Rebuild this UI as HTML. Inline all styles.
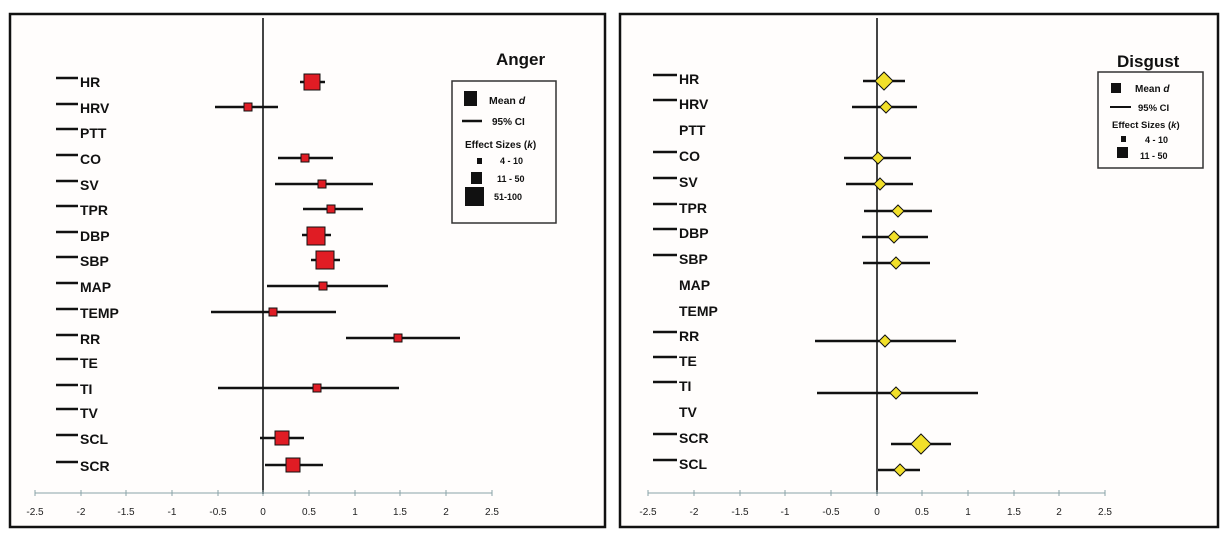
<!DOCTYPE html>
<html><head><meta charset="utf-8"><style>
html,body{margin:0;padding:0;background:#fff;}
svg{display:block;font-family:"Liberation Sans",sans-serif;}
.lab{font-size:14px;font-weight:bold;fill:#111;}
.tk{font-size:10px;fill:#222;text-anchor:middle;}
.lg{font-size:10.5px;font-weight:bold;fill:#111;}
</style></head><body>
<svg width="1228" height="537" viewBox="0 0 1228 537">
<rect x="0" y="0" width="1228" height="537" fill="#fff"/>
<!-- LEFT PANEL -->
<rect x="10" y="14" width="595" height="513" fill="#fffdfc" stroke="#111" stroke-width="2.5"/>
<line x1="263" y1="18" x2="263" y2="494" stroke="#444" stroke-width="2"/>
<line x1="35" y1="493" x2="492" y2="493" stroke="#8aa3a8" stroke-width="1"/>
<g stroke="#8aa3a8" stroke-width="1">
<line x1="35" y1="490" x2="35" y2="496"/><line x1="81" y1="490" x2="81" y2="496"/><line x1="126" y1="490" x2="126" y2="496"/><line x1="172" y1="490" x2="172" y2="496"/><line x1="218" y1="490" x2="218" y2="496"/><line x1="263" y1="490" x2="263" y2="496"/><line x1="309" y1="490" x2="309" y2="496"/><line x1="355" y1="490" x2="355" y2="496"/><line x1="400" y1="490" x2="400" y2="496"/><line x1="446" y1="490" x2="446" y2="496"/><line x1="492" y1="490" x2="492" y2="496"/>
</g>
<g class="tk">
<text x="35" y="515">-2.5</text><text x="81" y="515">-2</text><text x="126" y="515">-1.5</text><text x="172" y="515">-1</text><text x="218" y="515">-0.5</text><text x="263" y="515">0</text><text x="309" y="515">0.5</text><text x="355" y="515">1</text><text x="400" y="515">1.5</text><text x="446" y="515">2</text><text x="492" y="515">2.5</text>
</g>
<g stroke="#111" stroke-width="2.5">
<line x1="56" y1="78" x2="78" y2="78"/><line x1="56" y1="104" x2="78" y2="104"/><line x1="56" y1="129" x2="78" y2="129"/><line x1="56" y1="155" x2="78" y2="155"/><line x1="56" y1="181" x2="78" y2="181"/><line x1="56" y1="206" x2="78" y2="206"/><line x1="56" y1="232" x2="78" y2="232"/><line x1="56" y1="257" x2="78" y2="257"/><line x1="56" y1="283" x2="78" y2="283"/><line x1="56" y1="309" x2="78" y2="309"/><line x1="56" y1="335" x2="78" y2="335"/><line x1="56" y1="359" x2="78" y2="359"/><line x1="56" y1="385" x2="78" y2="385"/><line x1="56" y1="409" x2="78" y2="409"/><line x1="56" y1="435" x2="78" y2="435"/><line x1="56" y1="462" x2="78" y2="462"/>
</g>
<g class="lab">
<text x="80" y="87">HR</text><text x="80" y="113">HRV</text><text x="80" y="138">PTT</text><text x="80" y="164">CO</text><text x="80" y="190">SV</text><text x="80" y="215">TPR</text><text x="80" y="241">DBP</text><text x="80" y="266">SBP</text><text x="80" y="292">MAP</text><text x="80" y="318">TEMP</text><text x="80" y="344">RR</text><text x="80" y="368">TE</text><text x="80" y="394">TI</text><text x="80" y="418">TV</text><text x="80" y="444">SCL</text><text x="80" y="471">SCR</text>
</g>
<g stroke="#111" stroke-width="2.5">
<line x1="300" y1="82" x2="325" y2="82"/><line x1="215" y1="107" x2="278" y2="107"/><line x1="278" y1="158" x2="333" y2="158"/><line x1="275" y1="184" x2="373" y2="184"/><line x1="303" y1="209" x2="363" y2="209"/><line x1="302" y1="235" x2="331" y2="235"/><line x1="311" y1="260" x2="340" y2="260"/><line x1="267" y1="286" x2="388" y2="286"/><line x1="211" y1="312" x2="336" y2="312"/><line x1="346" y1="338" x2="460" y2="338"/><line x1="218" y1="388" x2="399" y2="388"/><line x1="260" y1="438" x2="304" y2="438"/><line x1="265" y1="465" x2="323" y2="465"/>
</g>
<g fill="#e01c24" stroke="#111" stroke-width="1">
<rect x="304" y="74" width="16" height="16"/><rect x="244" y="103" width="8" height="8"/><rect x="301" y="154" width="8" height="8"/><rect x="318" y="180" width="8" height="8"/><rect x="327" y="205" width="8" height="8"/><rect x="307" y="227" width="18" height="18"/><rect x="316" y="251" width="18" height="18"/><rect x="319" y="282" width="8" height="8"/><rect x="269" y="308" width="8" height="8"/><rect x="394" y="334" width="8" height="8"/><rect x="313" y="384" width="8" height="8"/><rect x="275" y="431" width="14" height="14"/><rect x="286" y="458" width="14" height="14"/>
</g>
<text x="496" y="65" style="font-size:17px;font-weight:bold;fill:#111">Anger</text>
<rect x="452" y="81" width="104" height="142" fill="#fffdfc" stroke="#333" stroke-width="1.5"/>
<rect x="464" y="91" width="13" height="15" fill="#111"/>
<text x="489" y="104" class="lg">Mean <tspan font-style="italic">d</tspan></text>
<line x1="462" y1="121" x2="482" y2="121" stroke="#111" stroke-width="2.5"/>
<text x="492" y="125" class="lg" style="font-size:10px">95% CI</text>
<text x="465" y="148" class="lg" style="font-size:10px">Effect Sizes (<tspan font-style="italic">k</tspan>)</text>
<rect x="477" y="158" width="5" height="6" fill="#111"/>
<text x="500" y="164" class="lg" style="font-size:9px">4 - 10</text>
<rect x="471" y="172" width="11" height="12" fill="#111"/>
<text x="497" y="182" class="lg" style="font-size:9px">11 - 50</text>
<rect x="465" y="187" width="19" height="19" fill="#111"/>
<text x="494" y="200" class="lg" style="font-size:9px">51-100</text>

<!-- RIGHT PANEL -->
<rect x="620" y="14" width="598" height="513" fill="#fffdfc" stroke="#111" stroke-width="2.5"/>
<line x1="877" y1="18" x2="877" y2="494" stroke="#444" stroke-width="2"/>
<line x1="648" y1="493" x2="1105" y2="493" stroke="#8aa3a8" stroke-width="1"/>
<g stroke="#8aa3a8" stroke-width="1">
<line x1="648" y1="490" x2="648" y2="496"/><line x1="694" y1="490" x2="694" y2="496"/><line x1="740" y1="490" x2="740" y2="496"/><line x1="785" y1="490" x2="785" y2="496"/><line x1="831" y1="490" x2="831" y2="496"/><line x1="877" y1="490" x2="877" y2="496"/><line x1="922" y1="490" x2="922" y2="496"/><line x1="968" y1="490" x2="968" y2="496"/><line x1="1014" y1="490" x2="1014" y2="496"/><line x1="1059" y1="490" x2="1059" y2="496"/><line x1="1105" y1="490" x2="1105" y2="496"/>
</g>
<g class="tk">
<text x="648" y="515">-2.5</text><text x="694" y="515">-2</text><text x="740" y="515">-1.5</text><text x="785" y="515">-1</text><text x="831" y="515">-0.5</text><text x="877" y="515">0</text><text x="922" y="515">0.5</text><text x="968" y="515">1</text><text x="1014" y="515">1.5</text><text x="1059" y="515">2</text><text x="1105" y="515">2.5</text>
</g>
<g stroke="#111" stroke-width="2.5">
<line x1="653" y1="75" x2="677" y2="75"/><line x1="653" y1="100" x2="677" y2="100"/><line x1="653" y1="152" x2="677" y2="152"/><line x1="653" y1="178" x2="677" y2="178"/><line x1="653" y1="204" x2="677" y2="204"/><line x1="653" y1="229" x2="677" y2="229"/><line x1="653" y1="255" x2="677" y2="255"/><line x1="653" y1="332" x2="677" y2="332"/><line x1="653" y1="357" x2="677" y2="357"/><line x1="653" y1="382" x2="677" y2="382"/><line x1="653" y1="434" x2="677" y2="434"/><line x1="653" y1="460" x2="677" y2="460"/>
</g>
<g class="lab">
<text x="679" y="84">HR</text><text x="679" y="109">HRV</text><text x="679" y="135">PTT</text><text x="679" y="161">CO</text><text x="679" y="187">SV</text><text x="679" y="213">TPR</text><text x="679" y="238">DBP</text><text x="679" y="264">SBP</text><text x="679" y="290">MAP</text><text x="679" y="316">TEMP</text><text x="679" y="341">RR</text><text x="679" y="366">TE</text><text x="679" y="391">TI</text><text x="679" y="417">TV</text><text x="679" y="443">SCR</text><text x="679" y="469">SCL</text>
</g>
<g stroke="#111" stroke-width="2.5">
<line x1="863" y1="81" x2="905" y2="81"/><line x1="852" y1="107" x2="917" y2="107"/><line x1="844" y1="158" x2="911" y2="158"/><line x1="846" y1="184" x2="913" y2="184"/><line x1="864" y1="211" x2="932" y2="211"/><line x1="862" y1="237" x2="928" y2="237"/><line x1="863" y1="263" x2="930" y2="263"/><line x1="815" y1="341" x2="956" y2="341"/><line x1="817" y1="393" x2="978" y2="393"/><line x1="891" y1="444" x2="951" y2="444"/><line x1="878" y1="470" x2="920" y2="470"/>
</g>
<g fill="#f2e02a" stroke="#111" stroke-width="1">
<polygon points="884,72 893,81 884,90 875,81"/>
<polygon points="886,101 892,107 886,113 880,107"/>
<polygon points="878,152 884,158 878,164 872,158"/>
<polygon points="880,178 886,184 880,190 874,184"/>
<polygon points="898,205 904,211 898,217 892,211"/>
<polygon points="894,231 900,237 894,243 888,237"/>
<polygon points="896,257 902,263 896,269 890,263"/>
<polygon points="885,335 891,341 885,347 879,341"/>
<polygon points="896,387 902,393 896,399 890,393"/>
<polygon points="921,434 931,444 921,454 911,444"/>
<polygon points="900,464 906,470 900,476 894,470"/>
</g>
<text x="1117" y="67" style="font-size:17px;font-weight:bold;fill:#111">Disgust</text>
<rect x="1098" y="72" width="105" height="96" fill="#fffdfc" stroke="#333" stroke-width="1.5"/>
<rect x="1111" y="83" width="10" height="10" fill="#111"/>
<text x="1135" y="92" class="lg" style="font-size:10px">Mean <tspan font-style="italic">d</tspan></text>
<line x1="1110" y1="107" x2="1131" y2="107" stroke="#111" stroke-width="2"/>
<text x="1138" y="111" class="lg" style="font-size:9.5px">95% CI</text>
<text x="1112" y="128" class="lg" style="font-size:9.5px">Effect Sizes (<tspan font-style="italic">k</tspan>)</text>
<rect x="1121" y="136" width="5" height="6" fill="#111"/>
<text x="1145" y="143" class="lg" style="font-size:9px">4 - 10</text>
<rect x="1117" y="147" width="11" height="11" fill="#111"/>
<text x="1140" y="159" class="lg" style="font-size:9px">11 - 50</text>
</svg>
</body></html>
